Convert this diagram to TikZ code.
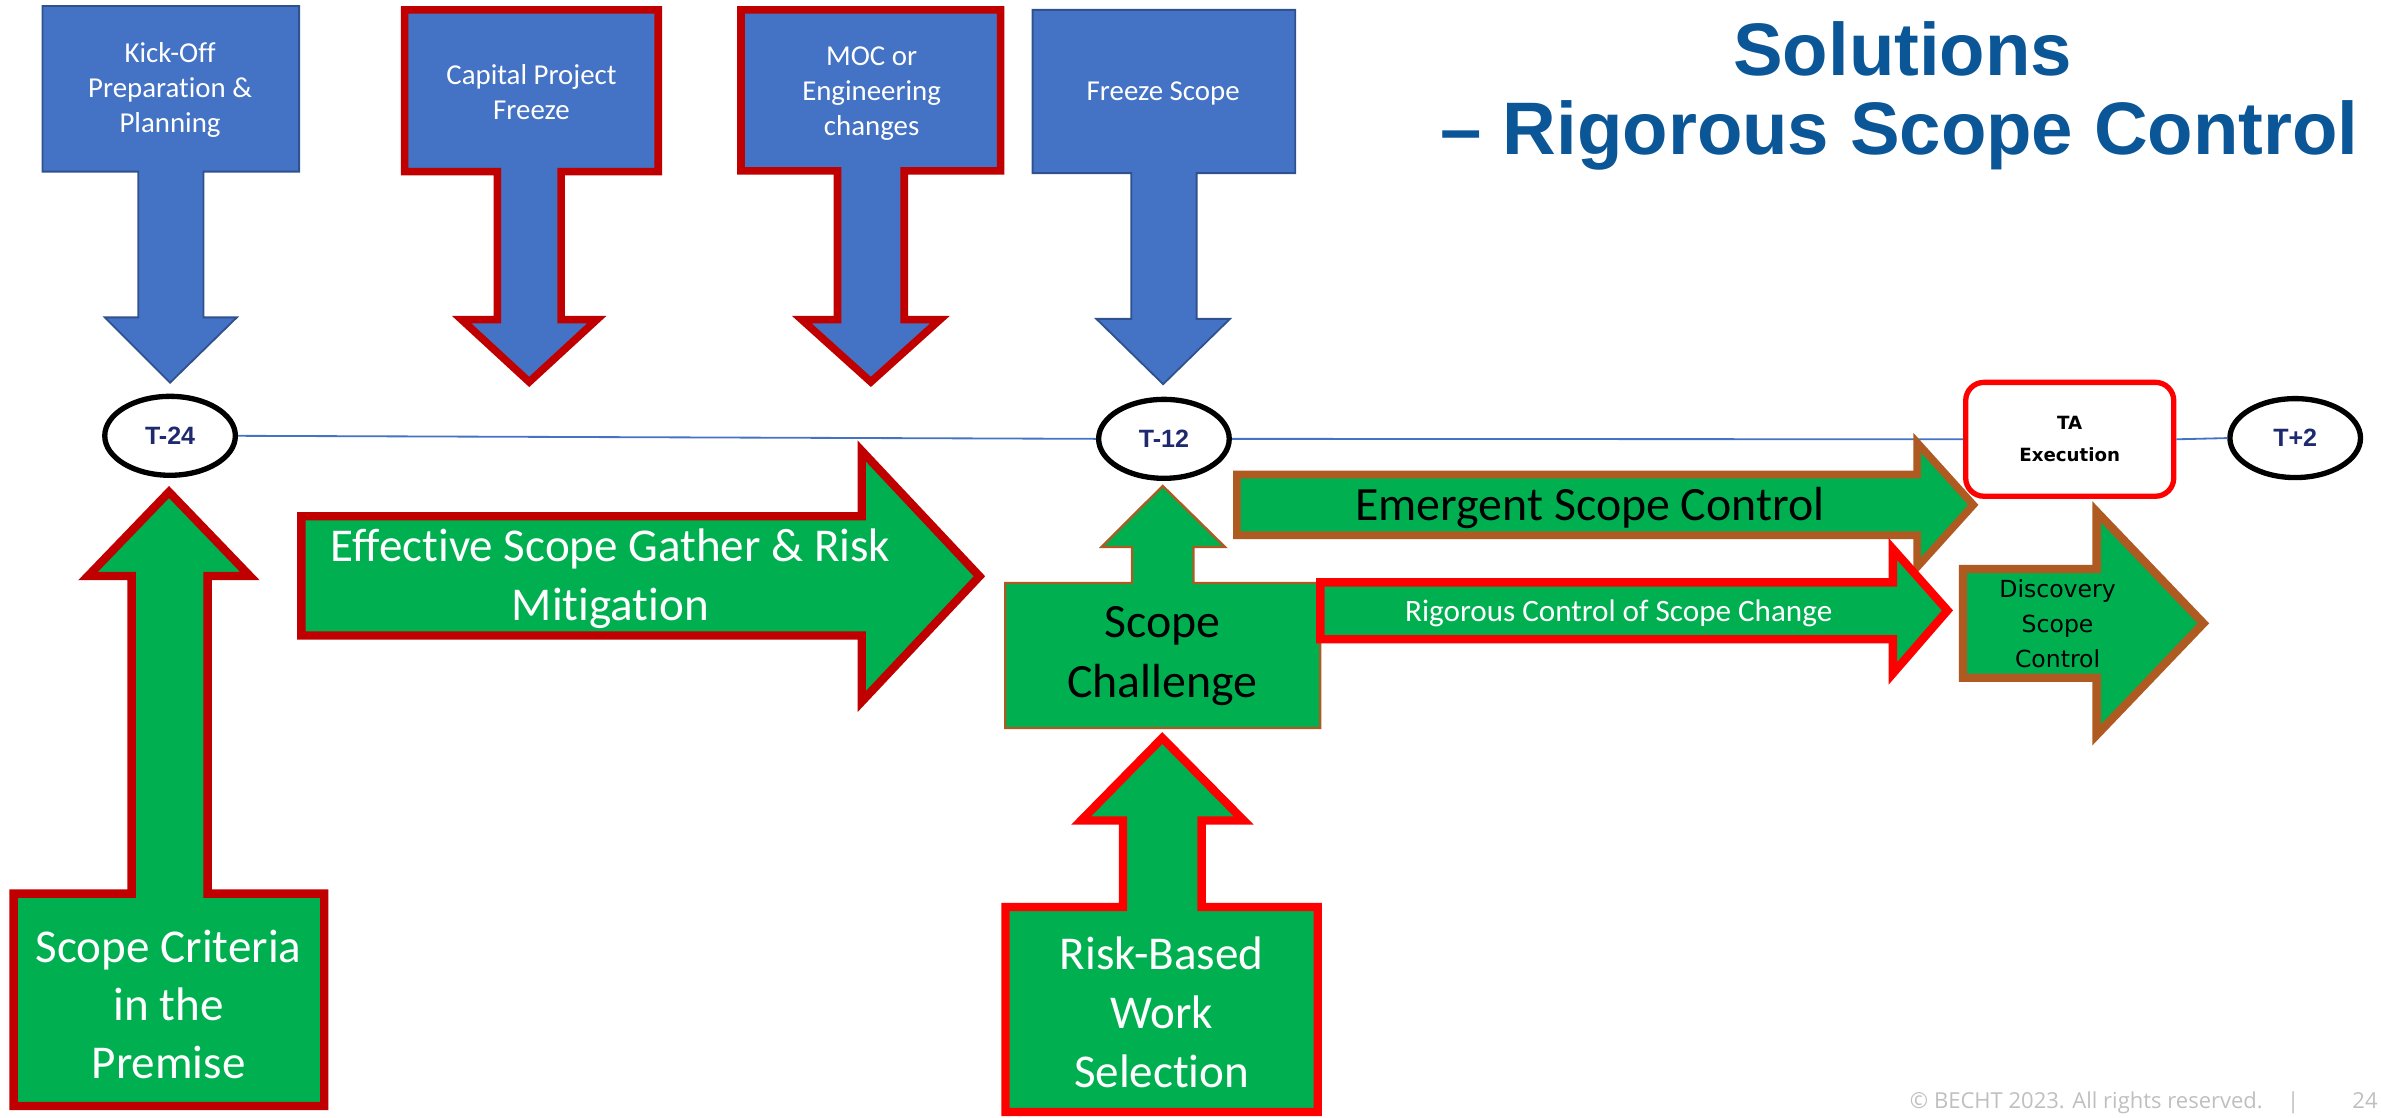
\documentclass[tikz,border=0pt]{standalone}
\usepackage{fontspec}
\setmainfont{Carlito}[RawFeature={-liga;-clig;-dlig}]
\newfontfamily\arialfont{Liberation Sans}
\newfontfamily\verdfont{DejaVu Sans}
\newfontfamily\footfont{Open Sans}
\definecolor{pblue}{HTML}{4472C4}
\definecolor{pblueb}{HTML}{2F528F}
\definecolor{dred}{HTML}{C00000}
\definecolor{bred}{HTML}{FF0000}
\definecolor{pgreen}{HTML}{00B050}
\definecolor{pbrown}{HTML}{AE5A21}
\definecolor{ttl}{HTML}{0A5697}
\definecolor{navy}{HTML}{1F2A6E}
\definecolor{foot}{HTML}{BFBFBF}
\tikzset{
  blueshape/.style={fill=pblue, draw=pblueb, line width=1.2pt},
  redblue/.style={fill=pblue, draw=dred, line width=5pt},
  greendred/.style={fill=pgreen, draw=dred, line width=5.5pt},
  greenbred/.style={fill=pgreen, draw=bred, line width=5.5pt},
  greenbrown/.style={fill=pgreen, draw=pbrown, line width=5pt},
  greenthin/.style={fill=pgreen, draw=pbrown, line width=1.5pt},
  txt/.style={inner sep=0pt, align=center},
  wtxt/.style={txt, text=white},
  btxt/.style={txt, text=black},
  milestone/.style={ellipse, draw=black, line width=3.5pt, fill=white, minimum width=86pt, minimum height=52pt, inner sep=0pt, text=navy, font=\arialfont\bfseries\fontsize{16.5}{18}\selectfont},
  tline/.style={draw=pblue, line width=1.2pt},
}
\usetikzlibrary{shapes.geometric}
\begin{document}
\begin{tikzpicture}[x=1pt, y=-1pt, line join=miter]
\useasboundingbox (0,0) rectangle (1568,735.6);

% ---- top blue down-arrow callouts ----
\path[blueshape] (28,4) -- (197,4) -- (197,113) -- (134,113) -- (134,209) -- (156,209) -- (112,252) -- (69,209) -- (91,209) -- (91,113) -- (28,113) -- cycle;
\node[wtxt, font=\fontsize{19}{23}\selectfont] (kickoffT) at (112,59.5) {Kick-Off\\Preparation \&\\Planning};

\path[redblue] (266.5,6.5) -- (433.5,6.5) -- (433.5,113) -- (369.5,113) -- (369.5,210.5) -- (393,210.5) -- (348.5,251.5) -- (304,210.5) -- (327.5,210.5) -- (327.5,113) -- (266.5,113) -- cycle;
\node[wtxt, font=\fontsize{19}{23}\selectfont] (capT) at (350,60.5) {Capital Project\\Freeze};

\path[redblue] (488,6.5) -- (659,6.5) -- (659,112.5) -- (595.5,112.5) -- (595.5,210.5) -- (619,210.5) -- (573.5,251.5) -- (528,210.5) -- (551.5,210.5) -- (551.5,112.5) -- (488,112.5) -- cycle;
\node[wtxt, font=\fontsize{19}{23}\selectfont] (mocT) at (574,61.5) {MOC or\\Engineering\\changes};

\path[blueshape] (680,6.5) -- (853,6.5) -- (853,114) -- (788,114) -- (788,210) -- (810,210) -- (766,253) -- (722,210) -- (745,210) -- (745,114) -- (680,114) -- cycle;
\node[wtxt, font=\fontsize{19}{23}\selectfont] (freezeT) at (766,61.5) {Freeze Scope};

% ---- title ----
\node[txt, anchor=base, text=ttl, font=\arialfont\bfseries\fontsize{49}{52}\selectfont] (title1) at (1253,49.4) {Solutions};
\node[txt, anchor=base, text=ttl, font=\arialfont\bfseries\fontsize{49}{52}\selectfont] (title2) at (1251,102) {– Rigorous Scope Control};

% ---- timeline ----
\node[milestone] (t24) at (112,287) {T-24};
\node[milestone] (t12) at (766.5,289) {T-12};
\node[draw=bred, line width=3.5pt, rounded corners=12pt, fill=white, minimum width=137pt, minimum height=75pt, inner sep=0pt, align=center, font=\verdfont\bfseries\fontsize{12}{21}\selectfont] (ta) at (1363,289.3) {TA\\Execution};
\node[milestone] (t2) at (1511.5,288.5) {T+2};
\draw[tline] (t24.east) -- (t12.west);
\draw[tline] (t12.east) -- (ta.west);
\draw[tline] (ta.east) -- (t2.west);

% ---- green arrows ----
\path[greendred] (9,728.3) -- (213.5,728.3) -- (213.5,588.5) -- (136.7,588.5) -- (136.7,379.3) -- (164.5,379.3) -- (111.3,324) -- (58,379.3) -- (86.7,379.3) -- (86.7,588.5) -- (9,588.5) -- cycle;
\node[wtxt, font=\fontsize{31}{38}\selectfont] (criteriaT) at (111,661.5) {Scope Criteria\\in the\\Premise};

\path[greendred] (198.5,340) -- (567.5,340) -- (567.5,297) -- (645,379.5) -- (567.5,462) -- (567.5,418.5) -- (198.5,418.5) -- cycle;
\node[wtxt, font=\fontsize{31}{39}\selectfont] (effT) at (402,381) {Effective Scope Gather \& Risk\\Mitigation};

\path[greenthin] (662,479.4) -- (869.5,479.4) -- (869.5,384) -- (786,384) -- (786,360.2) -- (806.7,360.2) -- (765.7,320) -- (725.4,360.2) -- (745.5,360.2) -- (745.5,384) -- (662,384) -- cycle;
\node[btxt, font=\fontsize{31.5}{39}\selectfont] (challT) at (765.5,432) {Scope\\Challenge};

\path[greenbred] (662.2,732.3) -- (867.8,732.3) -- (867.8,597.3) -- (791.3,597.3) -- (791.3,540.3) -- (819,540.3) -- (765.4,486) -- (712,540.3) -- (739.5,540.3) -- (739.5,597.3) -- (662.2,597.3) -- cycle;
\node[wtxt, font=\fontsize{31}{38.7}\selectfont] (riskT) at (765,666.7) {Risk-Based\\Work\\Selection};

\path[greenbrown] (814.5,312.5) -- (1262.5,312.5) -- (1262.5,291.5) -- (1299.5,332.5) -- (1262.5,373.5) -- (1262.5,352.5) -- (814.5,352.5) -- cycle;
\node[btxt, font=\fontsize{31.5}{38}\selectfont] (emergT) at (1047,334.5) {Emergent Scope Control};

\path[greenbred] (869.5,383.5) -- (1246.5,383.5) -- (1246.5,361.5) -- (1282.5,402) -- (1246.5,443.5) -- (1246.5,421) -- (869.5,421) -- cycle;
\node[wtxt, font=\fontsize{20.5}{24}\selectfont] (rigT) at (1066,404) {Rigorous Control of Scope Change};

\path[greenbrown, line width=5.5pt] (1292.7,374.7) -- (1380.7,374.7) -- (1380.7,337) -- (1451,410.5) -- (1380.7,484) -- (1380.7,446.3) -- (1292.7,446.3) -- cycle;
\node[btxt, font=\verdfont\fontsize{15.5}{23}\selectfont] (discT) at (1355,411) {Discovery\\Scope\\Control};

% ---- footer ----
\node[inner sep=0pt, anchor=base west, text=foot, font=\footfont\fontsize{14.5}{16}\selectfont] (footer) at (1257.6,730) {© BECHT 2023. All rights reserved.\hspace{16pt}|};
\node[inner sep=0pt, anchor=base west, text=foot, font=\footfont\fontsize{14.5}{16}\selectfont] (pagenum) at (1549,730) {24};
\end{tikzpicture}
\end{document}
